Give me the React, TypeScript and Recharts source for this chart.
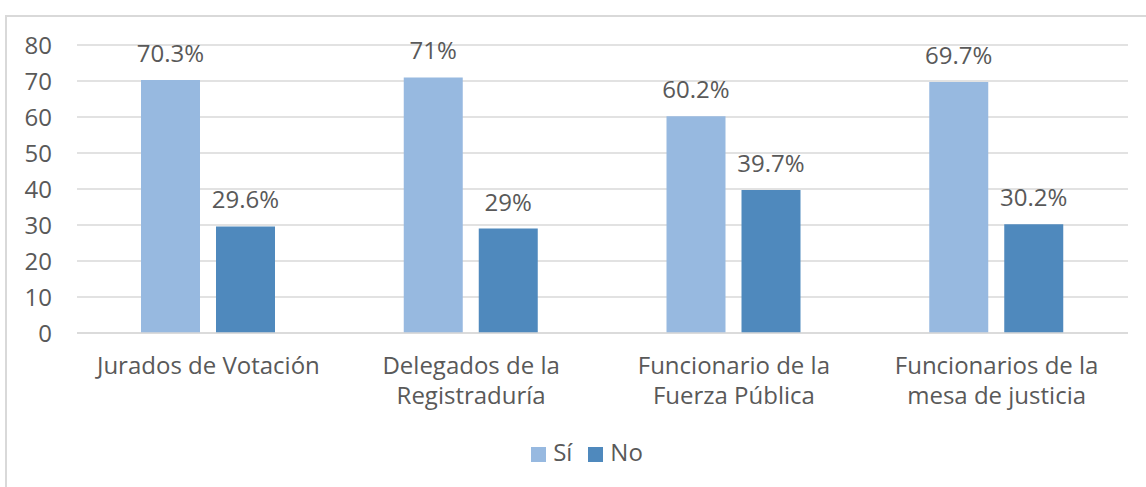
import React from "react";
import { Bar, BarChart, CartesianGrid, LabelList, Legend, XAxis, YAxis } from "recharts";

const categories = [
  "Jurados de Votación",
  "Delegados de la Registraduría",
  "Funcionario de la Fuerza Pública",
  "Funcionarios de la mesa de justicia",
];

// how each category label wraps onto lines
const tickLines = [
  ["Jurados de Votación"],
  ["Delegados de la", "Registraduría"],
  ["Funcionario de la", "Fuerza Pública"],
  ["Funcionarios de la", "mesa de justicia"],
];

const si = [70.3, 71, 60.2, 69.7];
const no = [29.6, 29, 39.7, 30.2];

const yTicks = [0, 10, 20, 30, 40, 50, 60, 70, 80];

const data = categories.map((name, i) => ({ name, si: si[i], no: no[i] }));

const FONT = "'Open Sans', sans-serif";
const FS = 24;
const TEXT = "#595959";

const CategoryTick = (props: any) => {
  const { x, y, index } = props;
  const lines = tickLines[index] || [];
  return (
    <text x={x} y={y} textAnchor="middle" fill={TEXT} fontSize={FS} fontFamily={FONT}>
      {lines.map((l, i) => (
        <tspan key={i} x={x} dy={i === 0 ? 33 : 30}>
          {l}
        </tspan>
      ))}
    </text>
  );
};

const legendOrder = ["Sí", "No"];

export default function App() {
  return (
    <div style={{ position: "absolute", left: 0, top: 0, width: 1146, height: 487, overflow: "hidden", background: "#fff" }}>
      <div
        style={{
          position: "absolute",
          left: 5,
          top: 15,
          width: 1160,
          height: 500,
          border: "2px solid #d9d9d9",
        }}
      />
      <div style={{ position: "absolute", left: 0, top: 0 }}>
        <BarChart
          width={1146}
          height={487}
          data={data}
          margin={{ top: 45, right: 18, left: 0, bottom: 0 }}
          barSize={59}
          barGap={16}
        >
          <CartesianGrid vertical={false} stroke="#d9d9d9" strokeWidth={1.5} />
          <XAxis
            dataKey="name"
            axisLine={{ stroke: "#d9d9d9", strokeWidth: 1.5 }}
            tickLine={false}
            interval={0}
            height={121}
            tick={<CategoryTick />}
          />
          <YAxis
            domain={[0, 80]}
            ticks={yTicks}
            interval={0}
            width={77}
            axisLine={false}
            tickLine={false}
            tickMargin={19}
            tick={{ fill: TEXT, fontSize: FS, fontFamily: FONT }}
          />
          <Legend
            verticalAlign="bottom"
            iconType="square"
            iconSize={15}
            itemSorter={(item: any) => legendOrder.indexOf(item.value)}
            wrapperStyle={{ top: 435, left: 28, fontFamily: FONT, fontSize: FS }}
            formatter={(value: string) => (
              <span style={{ color: TEXT, marginLeft: 3, marginRight: value === "Sí" ? 6 : 0 }}>{value}</span>
            )}
          />
          <Bar dataKey="si" name="Sí" fill="#97b9e0" isAnimationActive={false}>
            <LabelList
              dataKey="si"
              position="top"
              offset={18}
              formatter={(v: any) => `${v}%`}
              style={{ fill: TEXT, fontSize: FS, fontFamily: FONT }}
            />
          </Bar>
          <Bar dataKey="no" name="No" fill="#4f89bd" isAnimationActive={false}>
            <LabelList
              dataKey="no"
              position="top"
              offset={18}
              formatter={(v: any) => `${v}%`}
              style={{ fill: TEXT, fontSize: FS, fontFamily: FONT }}
            />
          </Bar>
        </BarChart>
      </div>
    </div>
  );
}
